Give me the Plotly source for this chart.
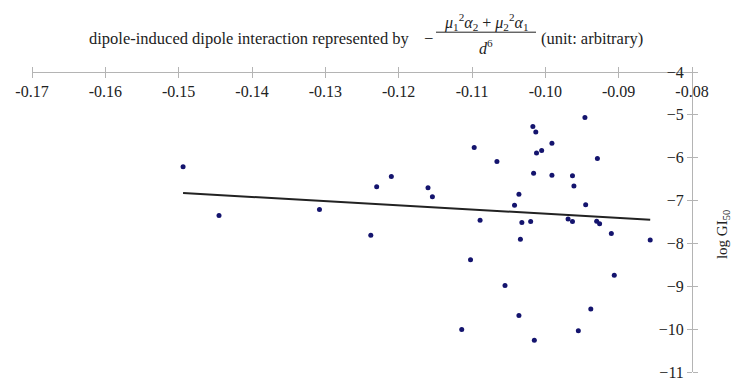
import numpy as np
import plotly.graph_objects as go

# interaction energy (arbitrary units) vs log GI50
interaction = [-0.1494, -0.1445, -0.1308, -0.1238, -0.1230, -0.1210, -0.1160, -0.1154,
               -0.1114, -0.1102, -0.1097, -0.1089, -0.1066, -0.1055, -0.1042, -0.1036,
               -0.1036, -0.1034, -0.1032, -0.1020, -0.1017, -0.1016, -0.1015, -0.1013,
               -0.1012, -0.1005, -0.0991, -0.0991, -0.0969, -0.0963, -0.0963, -0.0961,
               -0.0955, -0.0946, -0.0945, -0.0938, -0.0930, -0.0929, -0.0926, -0.0910,
               -0.0906, -0.0857]
log_gi50 = [-6.21, -7.35, -7.21, -7.81, -6.68, -6.44, -6.70, -6.91,
            -10.01, -8.38, -5.76, -7.46, -6.09, -8.98, -7.11, -6.85,
            -9.68, -7.90, -7.51, -7.49, -5.27, -6.36, -10.26, -5.40,
            -5.89, -5.83, -5.66, -6.41, -7.43, -6.42, -7.49, -6.66,
            -10.04, -5.06, -7.10, -9.53, -7.48, -6.02, -7.54, -7.77,
            -8.74, -7.92]

x_ticks = [-0.17, -0.16, -0.15, -0.14, -0.13, -0.12, -0.11, -0.10, -0.09, -0.08]
x_labels = ['-0.17', '-0.16', '-0.15', '-0.14', '-0.13', '-0.12', '-0.11', '-0.10', '-0.09', '-0.08']
y_ticks = [-4, -5, -6, -7, -8, -9, -10, -11]

# linear trendline
slope, icpt = np.polyfit(interaction, log_gi50, 1)
tx = np.array([min(interaction), max(interaction)])
ty = slope * tx + icpt

FONT = 'Liberation Serif'
AXIS_COL = '#b4b4b4'
TXT = '#222'

# plot area in pixels: x 32..692, y 72..381
L, R, T, B = 32, 692, 72, 381


def px(x):
    return (x - L) / (R - L)


def py(y):
    return (B - y) / (B - T)


fig = go.Figure()
fig.add_trace(go.Scatter(x=tx, y=ty, mode='lines',
                         line=dict(color='#222', width=2), hoverinfo='skip'))
fig.add_trace(go.Scatter(x=interaction, y=log_gi50, mode='markers',
                         marker=dict(size=5, color='#14146e')))
# invisible trace so the overlay axes (other half of the cross ticks) are drawn
fig.add_trace(go.Scatter(x=[-0.1], y=[-8], xaxis='x2', yaxis='y2', mode='markers',
                         marker=dict(opacity=0), hoverinfo='skip'))

fig.update_layout(
    width=735, height=390,
    margin=dict(l=L, r=735 - R, t=T, b=390 - B),
    paper_bgcolor='white', plot_bgcolor='white',
    showlegend=False,
    font=dict(family=FONT, size=16, color=TXT),
    xaxis=dict(range=[-0.17, -0.08], tickvals=x_ticks, ticktext=x_labels,
               anchor='free', position=1, side='bottom', ticklabeloverflow='allow',
               showline=True, linecolor=AXIS_COL, linewidth=1,
               ticks='outside', ticklen=5, tickcolor=AXIS_COL,
               showgrid=False, zeroline=False),
    yaxis=dict(range=[-11, -4], tickvals=y_ticks,
               anchor='free', position=1, side='left', ticklabeloverflow='allow',
               showline=True, linecolor=AXIS_COL, linewidth=1,
               ticks='outside', ticklen=5, tickcolor=AXIS_COL,
               showgrid=False, zeroline=False),
    xaxis2=dict(range=[-0.17, -0.08], tickvals=x_ticks, overlaying='x',
                anchor='free', position=1, side='top', showticklabels=False,
                ticks='outside', ticklen=5, tickcolor=AXIS_COL,
                showline=False, showgrid=False, zeroline=False),
    yaxis2=dict(range=[-11, -4], tickvals=y_ticks, overlaying='y',
                anchor='free', position=1, side='right', showticklabels=False,
                ticks='outside', ticklen=5, tickcolor=AXIS_COL,
                showline=False, showgrid=False, zeroline=False),
)

# title with a hand-built fraction
fig.add_annotation(text='dipole-induced dipole interaction represented by',
                   xref='paper', yref='paper', x=px(412), y=py(37),
                   xanchor='right', yanchor='middle', showarrow=False,
                   font=dict(family=FONT, size=16.5, color=TXT))
fig.add_annotation(text='\u2212', xref='paper', yref='paper', x=px(428), y=py(37),
                   xanchor='center', yanchor='middle', showarrow=False,
                   font=dict(family=FONT, size=16.5, color=TXT))
fig.add_annotation(text='<i>\u03bc</i><sub>1</sub><sup>2</sup><i>\u03b1</i><sub>2</sub> + '
                        '<i>\u03bc</i><sub>2</sub><sup>2</sup><i>\u03b1</i><sub>1</sub>',
                   xref='paper', yref='paper', x=px(486), y=py(21),
                   xanchor='center', yanchor='middle', showarrow=False,
                   font=dict(family=FONT, size=16, color=TXT))
fig.add_shape(type='line', xref='paper', yref='paper',
              x0=px(436), x1=px(536), y0=py(31), y1=py(31),
              line=dict(color=TXT, width=1))
fig.add_annotation(text='<i>d</i><sup>6</sup>', xref='paper', yref='paper',
                   x=px(486), y=py(46), xanchor='center', yanchor='middle',
                   showarrow=False, font=dict(family=FONT, size=16, color=TXT))
fig.add_annotation(text='(unit: arbitrary)', xref='paper', yref='paper',
                   x=px(539), y=py(37), xanchor='left', yanchor='middle',
                   showarrow=False, font=dict(family=FONT, size=16.5, color=TXT))

# y axis title on the far right
fig.add_annotation(text='log GI<sub>50</sub>', xref='paper', yref='paper',
                   x=px(723), y=py(240), textangle=-90,
                   xanchor='center', yanchor='middle', showarrow=False,
                   font=dict(family=FONT, size=15, color=TXT))

fig.write_html("out.html", config=dict(displayModeBar=False),
               post_script="document.body.style.margin='0';")
